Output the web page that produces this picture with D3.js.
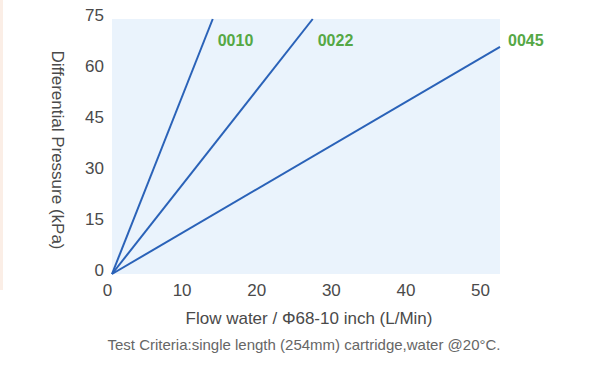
<!DOCTYPE html>
<html>
<head>
<meta charset="utf-8">
<script src="https://cdn.jsdelivr.net/npm/d3@7"></script>
<style>
  body { margin: 0; background: #fff; }
  text { font-family: "Liberation Sans", Arial, sans-serif; }
</style>
</head>
<body>
<svg id="chart" width="600" height="370"></svg>
<script>
// cartridge models and their flow / pressure end points
var models = ["0010", "0022", "0045"];
var flow0010 = [0, 13.5];
var dp0010 = [0, 75];
var flow0022 = [0, 26.9];
var dp0022 = [0, 75];
var flow0045 = [0, 52];
var dp0045 = [0, 66.8];
var xTicks = [0, 10, 20, 30, 40, 50];
var yTicks = [0, 15, 30, 45, 60, 75];

var svg = d3.select("#chart"),
    margin = {top: 19, right: 100, bottom: 96, left: 112},
    width = +svg.attr("width") - margin.left - margin.right,
    height = +svg.attr("height") - margin.top - margin.bottom;

// faint page edge on the left
svg.append("rect").attr("x", 0).attr("y", 0).attr("width", 3).attr("height", 290)
  .attr("fill", "#fbeee6");

var g = svg.append("g").attr("transform", "translate(" + margin.left + "," + margin.top + ")");

var x = d3.scaleLinear().domain([0, 52]).range([0, width]);
var y = d3.scaleLinear().domain([0, 75]).range([height, 0]);

g.append("rect").attr("width", width).attr("height", height).attr("fill", "#eaf3fc");

var xAxis = g.append("g").attr("transform", "translate(0," + height + ")")
  .call(d3.axisBottom(x).tickValues(xTicks).tickSize(0).tickPadding(10));
xAxis.select(".domain").remove();
xAxis.selectAll("text").attr("dx", -5).attr("font-size", 17).attr("fill", "#4a4a4a");

var yAxis = g.append("g")
  .call(d3.axisLeft(y).tickValues(yTicks).tickSize(0).tickPadding(8));
yAxis.select(".domain").remove();
yAxis.selectAll("text").attr("dy", "0.1em").attr("font-size", 17).attr("fill", "#4a4a4a");

var series = [
  {name: models[0], xs: flow0010, ys: dp0010},
  {name: models[1], xs: flow0022, ys: dp0022},
  {name: models[2], xs: flow0045, ys: dp0045}
];

var line = d3.line().x(function(d) { return x(d[0]); }).y(function(d) { return y(d[1]); });

g.selectAll(".series").data(series).enter().append("path")
  .attr("class", "series")
  .attr("d", function(s) { return line(d3.zip(s.xs, s.ys)); })
  .attr("fill", "none")
  .attr("stroke", "#2a62b8")
  .attr("stroke-width", 2);

// model labels to the right of each line's end
g.selectAll(".lbl").data(series).enter().append("text")
  .attr("class", "lbl")
  .attr("x", function(s, i) { return i == 2 ? x(s.xs[1]) + 8 : x(s.xs[1]) + 5; })
  .attr("y", y(67))
  .attr("font-size", 16)
  .attr("font-weight", "bold")
  .attr("fill", "#55a845")
  .text(function(s) { return s.name; });

svg.append("text")
  .attr("transform", "translate(52,150) rotate(90)")
  .attr("text-anchor", "middle")
  .attr("font-size", 17)
  .attr("fill", "#4a4a4a")
  .text("Differential Pressure (kPa)");

svg.append("text")
  .attr("x", 309).attr("y", 324)
  .attr("text-anchor", "middle")
  .attr("font-size", 17)
  .attr("fill", "#4a4a4a")
  .text("Flow water / \u03A668-10 inch (L/Min)");

svg.append("text")
  .attr("x", 304).attr("y", 350)
  .attr("text-anchor", "middle")
  .attr("font-size", 15)
  .attr("fill", "#666")
  .text("Test Criteria:single length (254mm) cartridge,water @20\u00B0C.");
</script>
</body>
</html>
